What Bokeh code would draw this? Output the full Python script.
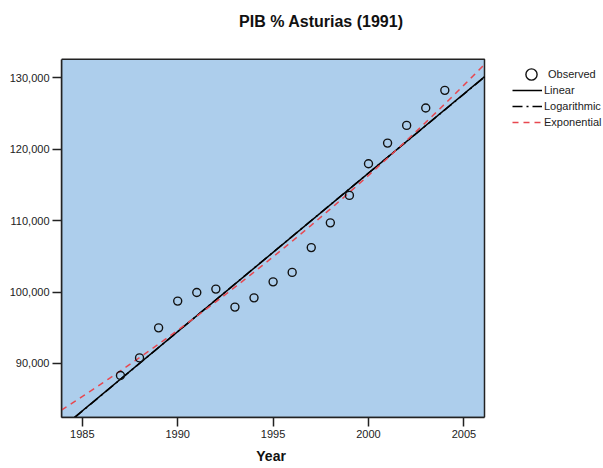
import numpy as np
from bokeh.plotting import figure
from bokeh.models import Legend, LegendItem, Label, Title, Range1d, FixedTicker, NumeralTickFormatter
from bokeh.embed import file_html
from bokeh.resources import INLINE

# ---- data ----
years = [1987, 1988, 1989, 1990, 1991, 1992, 1993, 1994, 1995,
         1996, 1997, 1998, 1999, 2000, 2001, 2002, 2003, 2004]
pib = [88320, 90780, 94990, 98730, 99940, 100410, 97890, 99190, 101430,
       102750, 106220, 109690, 113530, 117960, 120850, 123330, 125760, 128240]
x_ticks = [1985, 1990, 1995, 2000, 2005]
y_ticks = [90000, 100000, 110000, 120000, 130000]
title_text = "PIB % Asturias (1991)"
x_label = "Year"
legend_labels = ["Observed", "Linear", "Logarithmic", "Exponential"]

# axis (plot-area) extents
x_lo, x_hi = 1983.91, 2006.08
y_lo, y_hi = 82437, 132577

FONT = "Liberation Sans"
BG = "#ADCEEC"
RED = "#E8474F"
INK = "#222222"

# layout in pixels: the data box sits inside a larger frame so that
# the title and legend (annotations) are not clipped
W, H = 603, 468
BOX_L, BOX_R, BOX_T, BOX_B = 61, 484, 59, 418
FRAME_W, FRAME_H = W - BOX_L, BOX_B
xpp = (x_hi - x_lo) / (BOX_R - BOX_L)
ypp = (y_hi - y_lo) / (BOX_B - BOX_T)

# ---- curve estimation fits (linear, logarithmic, exponential) ----
t = np.array(years, dtype=float)
y = np.array(pib, dtype=float)
b_lin = np.polyfit(t, y, 1)
b_log = np.polyfit(np.log(t), y, 1)
b_exp = np.polyfit(t, np.log(y), 1)
xf = np.linspace(x_lo, x_hi, 3000)


def clip(v):
    v = np.asarray(v, dtype=float).copy()
    v[(v < y_lo) | (v > y_hi)] = np.nan
    return v


y_lin = clip(np.polyval(b_lin, xf))
y_log = clip(np.polyval(b_log, np.log(xf)))
y_exp = clip(np.exp(np.polyval(b_exp, xf)))

p = figure(width=W, height=H, output_backend="svg", toolbar_location=None,
           x_range=Range1d(x_lo, x_lo + FRAME_W * xpp),
           y_range=Range1d(y_lo, y_lo + FRAME_H * ypp),
           min_border_left=BOX_L, min_border_right=0, min_border_top=0,
           min_border_bottom=H - BOX_B)

p.background_fill_color = "white"
p.border_fill_color = "white"
p.outline_line_color = None
p.xgrid.visible = False
p.ygrid.visible = False

# plot area
p.quad(left=[x_lo], right=[x_hi], bottom=[y_lo], top=[y_hi],
       fill_color=BG, line_color=INK, line_width=1.5)

for ax in (p.xaxis[0], p.yaxis[0]):
    ax.axis_line_color = INK
    ax.axis_line_width = 1.5
    ax.major_tick_line_color = INK
    ax.major_tick_line_width = 1.5
    ax.major_tick_out = 9
    ax.major_tick_in = 0
    ax.minor_tick_line_color = None
    ax.major_label_text_font = FONT
    ax.major_label_text_font_size = "11px"
    ax.major_label_text_color = INK
    ax.major_label_standoff = 3

p.xaxis[0].bounds = (x_lo, x_hi)
p.yaxis[0].bounds = (y_lo, y_hi)
p.xaxis[0].ticker = FixedTicker(ticks=x_ticks)
p.yaxis[0].ticker = FixedTicker(ticks=y_ticks)
p.yaxis[0].formatter = NumeralTickFormatter(format="0,0")

# x-axis title, centred under the plot area
p.add_layout(Title(text=x_label, align="left", offset=255.8 - BOX_L,
                   text_font=FONT, text_font_size="14px", text_font_style="bold",
                   text_color="#111111"), "below")

r_lin = p.line(xf, y_lin, line_color="black", line_width=1.5)
r_log = p.line(xf, y_log, line_color="black", line_width=1.5, line_dash="10 4 2 4")
r_exp = p.line(xf, y_exp, line_color=RED, line_width=1.5, line_dash="6 5")
r_obs = p.scatter(years, pib, marker="circle", size=8, fill_color=None,
                  line_color="#111111", line_width=1.4)


def style_legend(lg, gh):
    lg.glyph_width = 30
    lg.glyph_height = gh
    lg.label_height = 16
    lg.spacing = 0
    lg.padding = 0
    lg.margin = 0
    lg.label_standoff = 2
    lg.label_text_font = FONT
    lg.label_text_font_size = "11px"
    lg.label_text_color = INK
    lg.border_line_color = None
    lg.background_fill_alpha = 0


leg_obs = Legend(items=[LegendItem(label=legend_labels[0], renderers=[r_obs])],
                 location=(516 - BOX_L, BOX_B - 89))
style_legend(leg_obs, 28)
leg_fit = Legend(items=[
    LegendItem(label=legend_labels[1], renderers=[r_lin]),
    LegendItem(label=legend_labels[2], renderers=[r_log]),
    LegendItem(label=legend_labels[3], renderers=[r_exp]),
], location=(512 - BOX_L, BOX_B - 131))
style_legend(leg_fit, 16)
p.add_layout(leg_obs)
p.add_layout(leg_fit)

title = Label(x=320.8 - BOX_L, y=BOX_B - 22, x_units="screen", y_units="screen",
              text=title_text, text_align="center", text_baseline="alphabetic",
              text_font=FONT, text_font_size="16px", text_font_style="bold",
              text_color="#111111")
p.add_layout(title)

open("out.html", "w").write(file_html(p, INLINE))
